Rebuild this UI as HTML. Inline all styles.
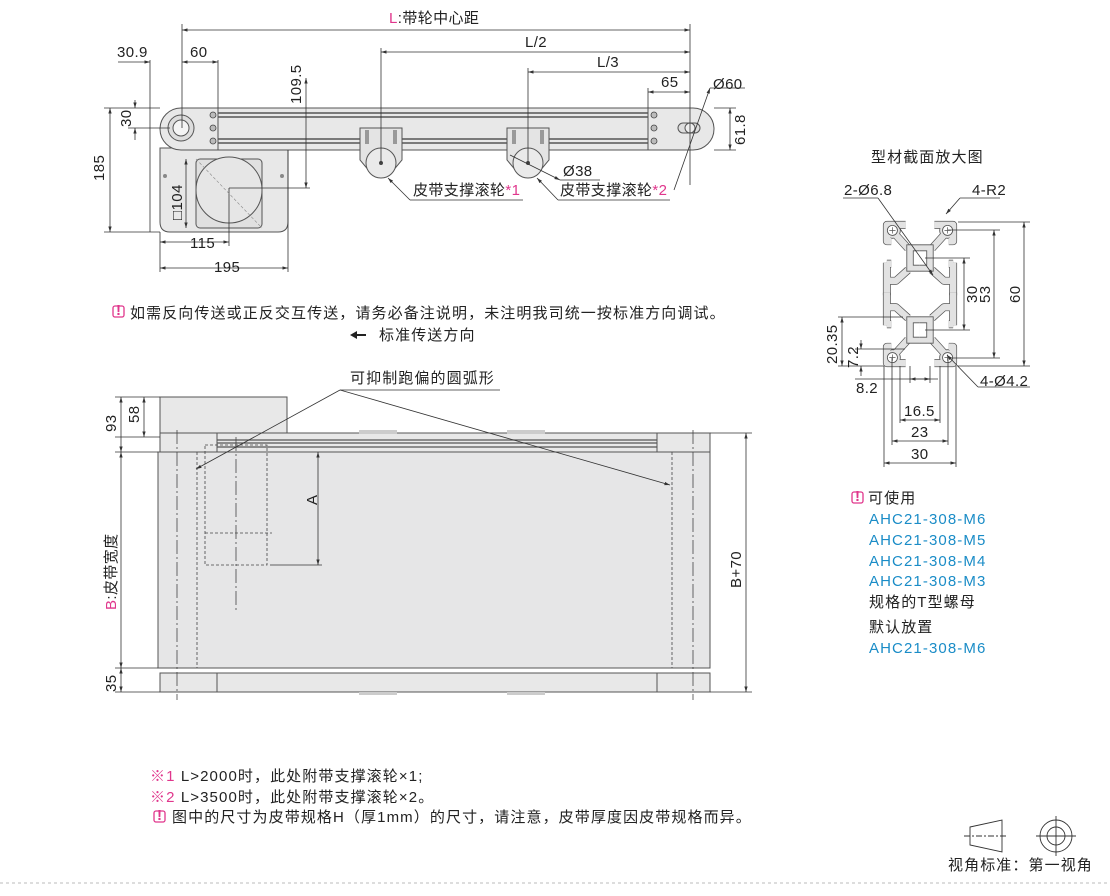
<!DOCTYPE html>
<html><head><meta charset="utf-8"><style>
html,body{margin:0;padding:0;background:#fff;}
svg{display:block;font-family:"Liberation Sans","Noto Sans CJK SC",sans-serif;}
text{fill:#222;font-size:15px;letter-spacing:0.4px;}
.n{letter-spacing:1.1px;}
.d{stroke:#333;stroke-width:0.8;fill:none;}
.o{stroke:#555;stroke-width:1;}
.bl{fill:#1a8cc7;}
.pk{fill:#e0368c;}
</style></head><body>
<svg width="1110" height="896" viewBox="0 0 1110 896" xmlns="http://www.w3.org/2000/svg" xmlns:xlink="http://www.w3.org/1999/xlink">
<defs>
<marker id="a" viewBox="0 0 10 10" refX="10" refY="5" markerWidth="7" markerHeight="7" orient="auto-start-reverse"><path d="M0,2 L10,5 L0,8 z" fill="#333"/></marker>
<g id="q">
<g fill="none" stroke-linejoin="round">
<path d="M-6,-28.8 H-13.8 V-22 H-12 M-12.5,-27.3 L-5,-19 M-13.8,-13 V0.5 M-13.8,-12.6 H-12 M-5,-10 L-10,-5.5 H-14.3" stroke="#555" stroke-width="3.3"/>
<circle cx="-11.5" cy="-26.5" r="3.3" fill="#e2e2e2" stroke="#555" stroke-width="0.35"/>
<path d="M-6,-28.8 H-13.8 V-22 H-12 M-12.5,-27.3 L-5,-19 M-13.8,-13 V0.5 M-13.8,-12.6 H-12 M-5,-10 L-10,-5.5 H-14.3" stroke="#e2e2e2" stroke-width="2.7"/>
</g>
<rect x="-5.5" y="-20.5" width="5.6" height="11" fill="#e2e2e2"/>
<path d="M0.1,-20.5 H-5.5 V-9.5 H0.1" fill="none" stroke="#555" stroke-width="0.35"/>
<circle cx="-11.5" cy="-26.5" r="2.1" fill="#fff" stroke="#555" stroke-width="0.35"/>
<path d="M-12.8,-26.5 H-10.2 M-11.5,-27.8 V-25.2" stroke="#555" stroke-width="0.3"/>
<path d="M0.1,-18 H-2.8 V-12 H0.1" fill="#fff" stroke="#555" stroke-width="0.35"/>
</g>
</defs>

<!-- ============ TOP VIEW ============ -->
<path d="M160,148 H288 V222 Q288,232 278,232 H170 Q160,232 160,222 Z" fill="#e8e8e8" class="o"/>
<rect x="196" y="159" width="66" height="69" rx="4" fill="#e0e0e0" class="o"/>
<circle cx="229" cy="190" r="33" fill="#e6e6e6" class="o"/>
<circle cx="165" cy="176" r="2" fill="#888"/><circle cx="282" cy="176" r="2" fill="#888"/>
<rect x="160" y="108" width="554" height="42" rx="21" fill="#e8e8e8" class="o"/>
<line x1="218" y1="108" x2="218" y2="150" class="o"/><line x1="648" y1="108" x2="648" y2="150" class="o"/>
<g stroke="#555" stroke-width="1.4">
<line x1="218" y1="113" x2="648" y2="113"/><line x1="218" y1="117" x2="648" y2="117"/>
<line x1="218" y1="139" x2="648" y2="139"/><line x1="218" y1="143" x2="648" y2="143"/>
</g>
<circle cx="181" cy="128" r="13" fill="#ddd" class="o"/><circle cx="181" cy="128" r="8" fill="#f4f4f4" class="o"/>
<g fill="#bbb" stroke="#444" stroke-width="0.8">
<circle cx="213" cy="115" r="3"/><circle cx="213" cy="128" r="3"/><circle cx="213" cy="141" r="3"/>
<circle cx="654" cy="115" r="3"/><circle cx="654" cy="128" r="3"/><circle cx="654" cy="141" r="3"/>
</g>
<rect x="678" y="123" width="22" height="10" rx="5" fill="#ddd" class="o"/><circle cx="690" cy="128" r="5" fill="#eee" class="o"/>
<path d="M360,128 H402 V160 L392,172 H370 L360,160 Z" fill="#e4e4e4" class="o"/>
<circle cx="381" cy="163" r="15" fill="#eaeaea" class="o"/><circle cx="381" cy="163" r="2" fill="#444"/>
<rect x="365" y="130" width="4" height="14" fill="#999"/><rect x="393" y="130" width="4" height="14" fill="#999"/>
<path d="M507,128 H549 V160 L539,172 H517 L507,160 Z" fill="#e4e4e4" class="o"/>
<circle cx="528" cy="163" r="15" fill="#eaeaea" class="o"/><circle cx="528" cy="163" r="2" fill="#444"/>
<rect x="512" y="130" width="4" height="14" fill="#999"/><rect x="540" y="130" width="4" height="14" fill="#999"/>
<g class="d">
<line x1="182" y1="24" x2="182" y2="128"/><line x1="690" y1="24" x2="690" y2="185"/>
<line x1="182" y1="30" x2="690" y2="30" marker-start="url(#a)" marker-end="url(#a)"/>
<line x1="381" y1="48" x2="381" y2="163"/><line x1="381" y1="52" x2="690" y2="52" marker-start="url(#a)" marker-end="url(#a)"/>
<line x1="528" y1="68" x2="528" y2="163"/><line x1="528" y1="72" x2="690" y2="72" marker-start="url(#a)" marker-end="url(#a)"/>
<line x1="648" y1="88" x2="648" y2="108"/><line x1="648" y1="92" x2="690" y2="92" marker-start="url(#a)" marker-end="url(#a)"/>
<line x1="150" y1="60" x2="150" y2="232"/><line x1="218" y1="60" x2="218" y2="108"/>
<line x1="118" y1="62" x2="150" y2="62" marker-end="url(#a)"/><line x1="182" y1="62" x2="218" y2="62" marker-start="url(#a)" marker-end="url(#a)"/>
<line x1="104" y1="108" x2="160" y2="108"/><line x1="104" y1="232" x2="160" y2="232"/>
<line x1="110" y1="108" x2="110" y2="232" marker-start="url(#a)" marker-end="url(#a)"/>
<line x1="128" y1="128" x2="170" y2="128"/>
<line x1="135" y1="100" x2="135" y2="108" marker-end="url(#a)"/><line x1="135" y1="140" x2="135" y2="128" marker-end="url(#a)"/>
<line x1="306" y1="78" x2="306" y2="188" marker-start="url(#a)" marker-end="url(#a)"/><line x1="229" y1="188" x2="310" y2="188"/>
<line x1="186" y1="159" x2="186" y2="228" marker-start="url(#a)" marker-end="url(#a)"/>
<line x1="229" y1="188" x2="229" y2="246"/><line x1="160" y1="232" x2="160" y2="272"/><line x1="288" y1="150" x2="288" y2="272"/>
<line x1="160" y1="242" x2="229" y2="242" marker-start="url(#a)" marker-end="url(#a)"/>
<line x1="160" y1="268" x2="288" y2="268" marker-start="url(#a)" marker-end="url(#a)"/>
<line x1="710" y1="88" x2="674" y2="190" marker-start="url(#a)"/><line x1="710" y1="88" x2="745" y2="88"/>
<line x1="714" y1="108" x2="736" y2="108"/><line x1="714" y1="150" x2="736" y2="150"/>
<line x1="730" y1="108" x2="730" y2="150" marker-start="url(#a)" marker-end="url(#a)"/>
<line x1="410" y1="200" x2="388" y2="178" marker-end="url(#a)"/><line x1="410" y1="200" x2="523" y2="200"/>
<line x1="558" y1="200" x2="537" y2="178" marker-end="url(#a)"/><line x1="558" y1="200" x2="670" y2="200"/>
<line x1="560" y1="180" x2="510" y2="155" marker-start="url(#a)"/><line x1="560" y1="180" x2="600" y2="180"/>
</g>
<line x1="196" y1="159" x2="262" y2="228" stroke="#888" stroke-width="0.6" stroke-dasharray="3,2"/>
<text x="389" y="23"><tspan class="pk">L</tspan>:带轮中心距</text>
<text x="525" y="47">L/2</text><text x="597" y="67">L/3</text><text x="661" y="87">65</text>
<text x="713" y="89">Ø60</text>
<text x="117" y="57">30.9</text><text x="190" y="57">60</text>
<text transform="translate(745,145) rotate(-90)">61.8</text>
<text transform="translate(104,181) rotate(-90)">185</text>
<text transform="translate(131,127) rotate(-90)">30</text>
<text transform="translate(301,104) rotate(-90)">109.5</text>
<text transform="translate(182,220) rotate(-90)">□104</text>
<text x="190" y="248">115</text><text x="214" y="272">195</text>
<text x="563" y="176">Ø38</text>
<text x="413" y="195">皮带支撑滚轮<tspan class="pk">*1</tspan></text>
<text x="560" y="195">皮带支撑滚轮<tspan class="pk">*2</tspan></text>

<rect x="113" y="306" width="11" height="11" rx="2" fill="none" stroke="#e0368c" stroke-width="1.3"/><text x="116" y="315" font-size="10" class="pk" font-weight="bold">!</text>
<text x="130" y="318" class="n">如需反向传送或正反交互传送，请务必备注说明，未注明我司统一按标准方向调试。</text>
<path d="M350,335 L357,331 V334 H366 V336 H357 V339 Z" fill="#222"/>
<text x="379" y="340" class="n">标准传送方向</text>
<text x="350" y="383" class="n">可抑制跑偏的圆弧形</text>
<line x1="340" y1="390" x2="500" y2="390" stroke="#333" stroke-width="0.8"/>

<!-- ============ BOTTOM VIEW ============ -->
<rect x="160" y="397" width="127" height="40" fill="#e8e8e8" class="o"/>
<rect x="160" y="433" width="550" height="19" fill="#e8e8e8" class="o"/>
<g stroke="#555" stroke-width="1.2"><line x1="217" y1="440" x2="657" y2="440"/><line x1="217" y1="443" x2="657" y2="443"/><line x1="217" y1="447" x2="657" y2="447"/>
<line x1="217" y1="678" x2="657" y2="678"/><line x1="217" y1="681" x2="657" y2="681"/><line x1="217" y1="685" x2="657" y2="685"/></g>
<line x1="217" y1="433" x2="217" y2="452" class="o"/><line x1="657" y1="433" x2="657" y2="452" class="o"/>
<rect x="359" y="430" width="38" height="4" fill="#ccc"/><rect x="507" y="430" width="38" height="4" fill="#ccc"/>
<rect x="158" y="452" width="552" height="216" fill="#e6e6e7" class="o"/>
<rect x="160" y="673" width="550" height="19" fill="#e8e8e8" class="o"/>
<line x1="217" y1="673" x2="217" y2="692" class="o"/><line x1="657" y1="673" x2="657" y2="692" class="o"/>
<rect x="359" y="692" width="38" height="3" fill="#ccc"/><rect x="507" y="692" width="38" height="3" fill="#ccc"/>
<g stroke="#444" stroke-width="0.8" fill="none" stroke-dasharray="3,2">
<line x1="197" y1="452" x2="197" y2="668"/><line x1="672" y1="452" x2="672" y2="668"/>
<rect x="205" y="445" width="62" height="120"/><line x1="205" y1="533" x2="272" y2="533"/>
</g>
<g stroke="#444" stroke-width="0.8" stroke-dasharray="14,3,2,3">
<line x1="177" y1="430" x2="177" y2="700"/><line x1="693" y1="430" x2="693" y2="700"/><line x1="236" y1="437" x2="236" y2="612"/>
</g>
<g class="d">
<line x1="340" y1="390" x2="196" y2="469" marker-end="url(#a)"/><line x1="340" y1="390" x2="670" y2="485" marker-end="url(#a)"/>
<line x1="318" y1="452" x2="318" y2="565" marker-start="url(#a)" marker-end="url(#a)"/><line x1="270" y1="565" x2="322" y2="565"/>
<line x1="115" y1="397" x2="160" y2="397"/><line x1="115" y1="452" x2="158" y2="452"/><line x1="115" y1="437" x2="160" y2="437"/>
<line x1="121" y1="397" x2="121" y2="452" marker-start="url(#a)" marker-end="url(#a)"/>
<line x1="144" y1="397" x2="144" y2="437" marker-start="url(#a)" marker-end="url(#a)"/>
<line x1="121" y1="452" x2="121" y2="668" marker-start="url(#a)" marker-end="url(#a)"/>
<line x1="115" y1="668" x2="158" y2="668"/><line x1="115" y1="692" x2="160" y2="692"/>
<line x1="121" y1="668" x2="121" y2="692" marker-start="url(#a)" marker-end="url(#a)"/>
<line x1="710" y1="433" x2="752" y2="433"/><line x1="710" y1="692" x2="752" y2="692"/>
<line x1="746" y1="433" x2="746" y2="692" marker-start="url(#a)" marker-end="url(#a)"/>
</g>
<text transform="translate(116,432) rotate(-90)">93</text>
<text transform="translate(139,423) rotate(-90)">58</text>
<text transform="translate(116,692) rotate(-90)">35</text>
<text transform="translate(116,610) rotate(-90)"><tspan class="pk">B</tspan>:皮带宽度</text>
<text transform="translate(317,505) rotate(-90)">A</text>
<text transform="translate(741,588) rotate(-90)">B+70</text>

<!-- ============ PROFILE ============ -->
<text x="871" y="162" class="n">型材截面放大图</text>
<g transform="translate(920,294) scale(2.4)">
<use xlink:href="#q"/>
<use xlink:href="#q" transform="scale(-1,1)"/>
<use xlink:href="#q" transform="scale(1,-1)"/>
<use xlink:href="#q" transform="scale(-1,-1)"/>
</g>
<g class="d">
<line x1="958" y1="222" x2="1030" y2="222"/><line x1="958" y1="366" x2="1030" y2="366"/>
<line x1="1024" y1="222" x2="1024" y2="366" marker-start="url(#a)" marker-end="url(#a)"/>
<line x1="948" y1="230" x2="1000" y2="230"/><line x1="948" y1="358" x2="1000" y2="358"/>
<line x1="994" y1="230" x2="994" y2="358" marker-start="url(#a)" marker-end="url(#a)"/>
<line x1="925" y1="258" x2="970" y2="258"/><line x1="925" y1="330" x2="970" y2="330"/>
<line x1="964" y1="258" x2="964" y2="330" marker-start="url(#a)" marker-end="url(#a)"/>
<line x1="838" y1="317" x2="903" y2="317"/><line x1="838" y1="366" x2="884" y2="366"/><line x1="855" y1="349" x2="905" y2="349"/>
<line x1="842" y1="317" x2="842" y2="366" marker-start="url(#a)" marker-end="url(#a)"/>
<line x1="861" y1="340" x2="861" y2="349" marker-end="url(#a)"/><line x1="861" y1="376" x2="861" y2="366" marker-end="url(#a)"/>
<line x1="884" y1="366" x2="884" y2="467"/><line x1="956" y1="366" x2="956" y2="467"/>
<line x1="892" y1="358" x2="892" y2="445"/><line x1="948" y1="358" x2="948" y2="445"/>
<line x1="900" y1="366" x2="900" y2="423"/><line x1="940" y1="366" x2="940" y2="423"/>
<line x1="910" y1="366" x2="910" y2="383"/><line x1="930" y1="366" x2="930" y2="383"/>
<line x1="855" y1="379" x2="938" y2="379"/>
<line x1="910" y1="379" x2="930" y2="379" marker-start="url(#a)" marker-end="url(#a)"/>
<line x1="900" y1="420" x2="940" y2="420" marker-start="url(#a)" marker-end="url(#a)"/>
<line x1="892" y1="441" x2="948" y2="441" marker-start="url(#a)" marker-end="url(#a)"/>
<line x1="884" y1="463" x2="956" y2="463" marker-start="url(#a)" marker-end="url(#a)"/>
<line x1="843" y1="198" x2="878" y2="198"/><line x1="878" y1="198" x2="933" y2="275" marker-end="url(#a)"/>
<line x1="960" y1="198" x2="1000" y2="198"/><line x1="960" y1="198" x2="946" y2="214" marker-end="url(#a)"/>
<line x1="978" y1="387" x2="1030" y2="387"/><line x1="978" y1="387" x2="947" y2="355" marker-end="url(#a)"/>
</g>
<text x="844" y="195">2-Ø6.8</text><text x="972" y="195">4-R2</text><text x="980" y="386">4-Ø4.2</text>
<text transform="translate(1020,303) rotate(-90)">60</text>
<text transform="translate(990,303) rotate(-90)">53</text>
<text transform="translate(977,303) rotate(-90)">30</text>
<text transform="translate(837,364) rotate(-90)">20.35</text>
<text transform="translate(858,368) rotate(-90)">7.2</text>
<text x="856" y="393">8.2</text><text x="904" y="416">16.5</text><text x="911" y="437">23</text><text x="911" y="459">30</text>

<!-- right list -->
<rect x="852" y="492" width="11" height="11" rx="2" fill="none" stroke="#e0368c" stroke-width="1.3"/><text x="855" y="501" font-size="10" class="pk" font-weight="bold">!</text>
<text x="868" y="503" class="n">可使用</text>
<text x="869" y="524" class="bl n">AHC21-308-M6</text>
<text x="869" y="545" class="bl n">AHC21-308-M5</text>
<text x="869" y="566" class="bl n">AHC21-308-M4</text>
<text x="869" y="586" class="bl n">AHC21-308-M3</text>
<text x="869" y="607" class="n">规格的T型螺母</text>
<text x="869" y="632" class="n">默认放置</text>
<text x="869" y="653" class="bl n">AHC21-308-M6</text>

<!-- footnotes -->
<text x="150" y="781" class="n"><tspan class="pk">※1</tspan> L&gt;2000时，此处附带支撑滚轮×1;</text>
<text x="150" y="802" class="n"><tspan class="pk">※2</tspan> L&gt;3500时，此处附带支撑滚轮×2。</text>
<rect x="154" y="811" width="11" height="11" rx="2" fill="none" stroke="#e0368c" stroke-width="1.3"/><text x="157" y="820" font-size="10" class="pk" font-weight="bold">!</text>
<text x="172" y="822" class="n">图中的尺寸为皮带规格H（厚1mm）的尺寸，请注意，皮带厚度因皮带规格而异。</text>

<!-- view symbol -->
<g stroke="#333" stroke-width="0.9" fill="none">
<path d="M970,827 L1002,820 V852 L970,845 Z"/>
<line x1="964" y1="836" x2="1008" y2="836" stroke-dasharray="6,2,2,2"/>
<circle cx="1056" cy="836" r="16"/><circle cx="1056" cy="836" r="9"/>
<line x1="1036" y1="836" x2="1076" y2="836"/><line x1="1056" y1="816" x2="1056" y2="856"/>
</g>
<text x="948" y="870" class="n">视角标准：第一视角</text>
<line x1="0" y1="883" x2="1110" y2="883" stroke="#bbb" stroke-width="1" stroke-dasharray="3,3"/>
</svg>
</body></html>
